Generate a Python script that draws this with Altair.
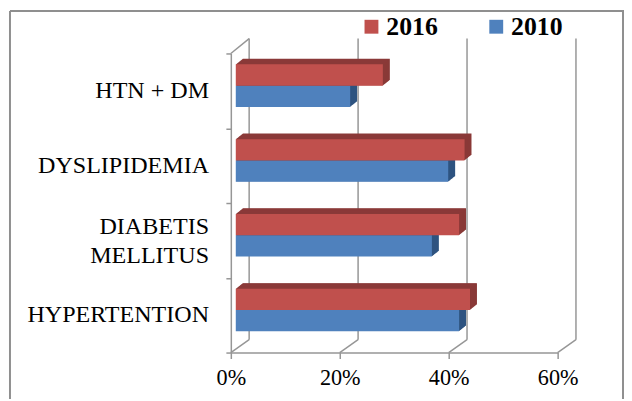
import altair as alt
import pandas as pd

categories = ["HTN + DM", "DYSLIPIDEMIA", "DIABETIS\u00a0|MELLITUS", "HYPERTENTION"]
row_index = [0, 1, 2, 3]
values_2016 = [27, 42, 41, 43]
values_2010 = [21, 39, 36, 41]
ticks = [0, 20, 40, 60]
row_edges = [0, 1, 2, 3, 4]
years = ["2016", "2010"]
FONT = "Liberation Serif"
GRID = "#969696"

W, H = 330, 302
PX = 60 / W       # x-units per pixel
PY = 4 / H        # row-units per pixel

rows = []
for r, c, a, b in zip(row_index, categories, values_2016, values_2010):
    rows.append({"r": r, "cat": c, "year": "2016", "v": a, "s": 0})
    rows.append({"r": r, "cat": c, "year": "2010", "v": b, "s": 1})
df = pd.DataFrame(rows)
tick_df = pd.DataFrame({"t": ticks})
cat_df = pd.DataFrame({"r": row_index, "cat": categories})

xs = alt.Scale(domain=[0, 60], range=[0, W], nice=False)
ys = alt.Scale(domain=[0, 4], range=[0, H], nice=False, zero=False)
col = alt.Scale(domain=years, range=["#C0504D", "#4F81BD"])

x_axis = alt.Axis(values=ticks, labelExpr="datum.value + '%'", title=None,
                  grid=False, domainColor=GRID, domainWidth=1.5, tickColor=GRID,
                  tickWidth=1.5, tickSize=6, labelFont=FONT, labelFontSize=22.4,
                  labelColor="black", labelPadding=8, labelFlush=False, labelOverlap=False)
y_axis = alt.Axis(values=row_edges, labels=False, title=None, grid=False,
                  domainColor=GRID, domainWidth=1.5, tickColor=GRID, tickWidth=1.5, tickSize=5)


def X(f):
    return alt.X(f, type="quantitative", scale=xs, axis=x_axis)


def Y(f):
    return alt.Y(f, type="quantitative", scale=ys, axis=y_axis)


BAR_TOP, BAR_H = 11, 21.5
X0 = 5 * PX


def datum_s(year):
    return years.index(year)


def bar_layer(year, ox, oy, color=None):
    base = alt.Chart(df[df["year"] == year]).transform_calculate(
        x0=f"{X0 + ox * PX}",
        x1=f"datum.v + {X0 + ox * PX}",
        y0=f"datum.r + {(BAR_TOP + datum_s(year) * BAR_H + oy) * PY}",
        y1=f"datum.r + {(BAR_TOP + (datum_s(year) + 1) * BAR_H + oy) * PY}",
    )
    if color:
        return base.mark_rect(color=color).encode(x=X("x0"), x2="x1:Q", y=Y("y0"), y2="y1:Q")
    return base.mark_rect().encode(
        x=X("x0"), x2="x1:Q", y=Y("y0"), y2="y1:Q",
        color=alt.Color("year:N", scale=col, legend=alt.Legend(
            orient="none", legendX=129, legendY=-40, direction="horizontal", title=None, columns=2,
            symbolType="square", symbolSize=196, symbolStrokeWidth=0, labelFont=FONT, labelFontSize=26,
            labelFontWeight="bold", labelColor="black", labelOffset=2, columnPadding=46, values=years)))


def series(year, dark):
    parts = [bar_layer(year, i * 0.5, -i * 0.4, dark) for i in range(14, 0, -1)]
    parts.append(bar_layer(year, 0, 0))
    return parts


back = alt.Chart(tick_df).transform_calculate(b=f"datum.t + {18.5 * PX}")
wall = back.mark_rule(color=GRID, strokeWidth=1.5).encode(
    x=X("b"), y=alt.value(-15), y2=alt.value(H - 13))
floor = back.mark_rule(color=GRID, strokeWidth=1.5).encode(
    x=X("t"), x2="b:Q", y=alt.value(H), y2=alt.value(H - 13))
corner = alt.Chart(tick_df[tick_df.t == 0]).transform_calculate(b=f"datum.t + {18.5 * PX}").mark_rule(
    color=GRID, strokeWidth=1.5).encode(
    x=X("t"), x2="b:Q", y=alt.value(0), y2=alt.value(-15))

labels = alt.Chart(cat_df).transform_calculate(
    m=f"datum.r + 0.5 - (indexof(datum.cat, '|') >= 0 ? {13.5 * PY} : 0)"
).mark_text(
    font=FONT, fontSize=24.3, color="black", align="right", baseline="middle",
    lineBreak="|", lineHeight=29, clip=False).encode(
    x=alt.value(-22), y=Y("m"), text="cat:N")

frame_color = "#8f8f8f"
frame = alt.Chart(tick_df.head(1))
frame_top = frame.mark_rule(color=frame_color, strokeWidth=2).encode(
    x=alt.value(-223), x2=alt.value(397), y=alt.value(-43))
frame_left = frame.mark_rule(color=frame_color, strokeWidth=2).encode(
    x=alt.value(-223), y=alt.value(-43), y2=alt.value(349))
frame_right = frame.mark_rule(color=frame_color, strokeWidth=2).encode(
    x=alt.value(396), y=alt.value(-43), y2=alt.value(349))

chart = alt.layer(
    wall, floor, corner, frame_top, frame_left, frame_right, labels,
    *series("2010", "#2F5480"), *series("2016", "#8A3A38"),
).properties(
    width=W, height=H,
    padding={"left": 225, "top": 44, "right": 67, "bottom": 47},
    autosize=alt.AutoSizeParams(type="none"),
).configure_view(stroke=None)

chart.save("out.html", embed_options={"renderer": "svg", "actions": False})
